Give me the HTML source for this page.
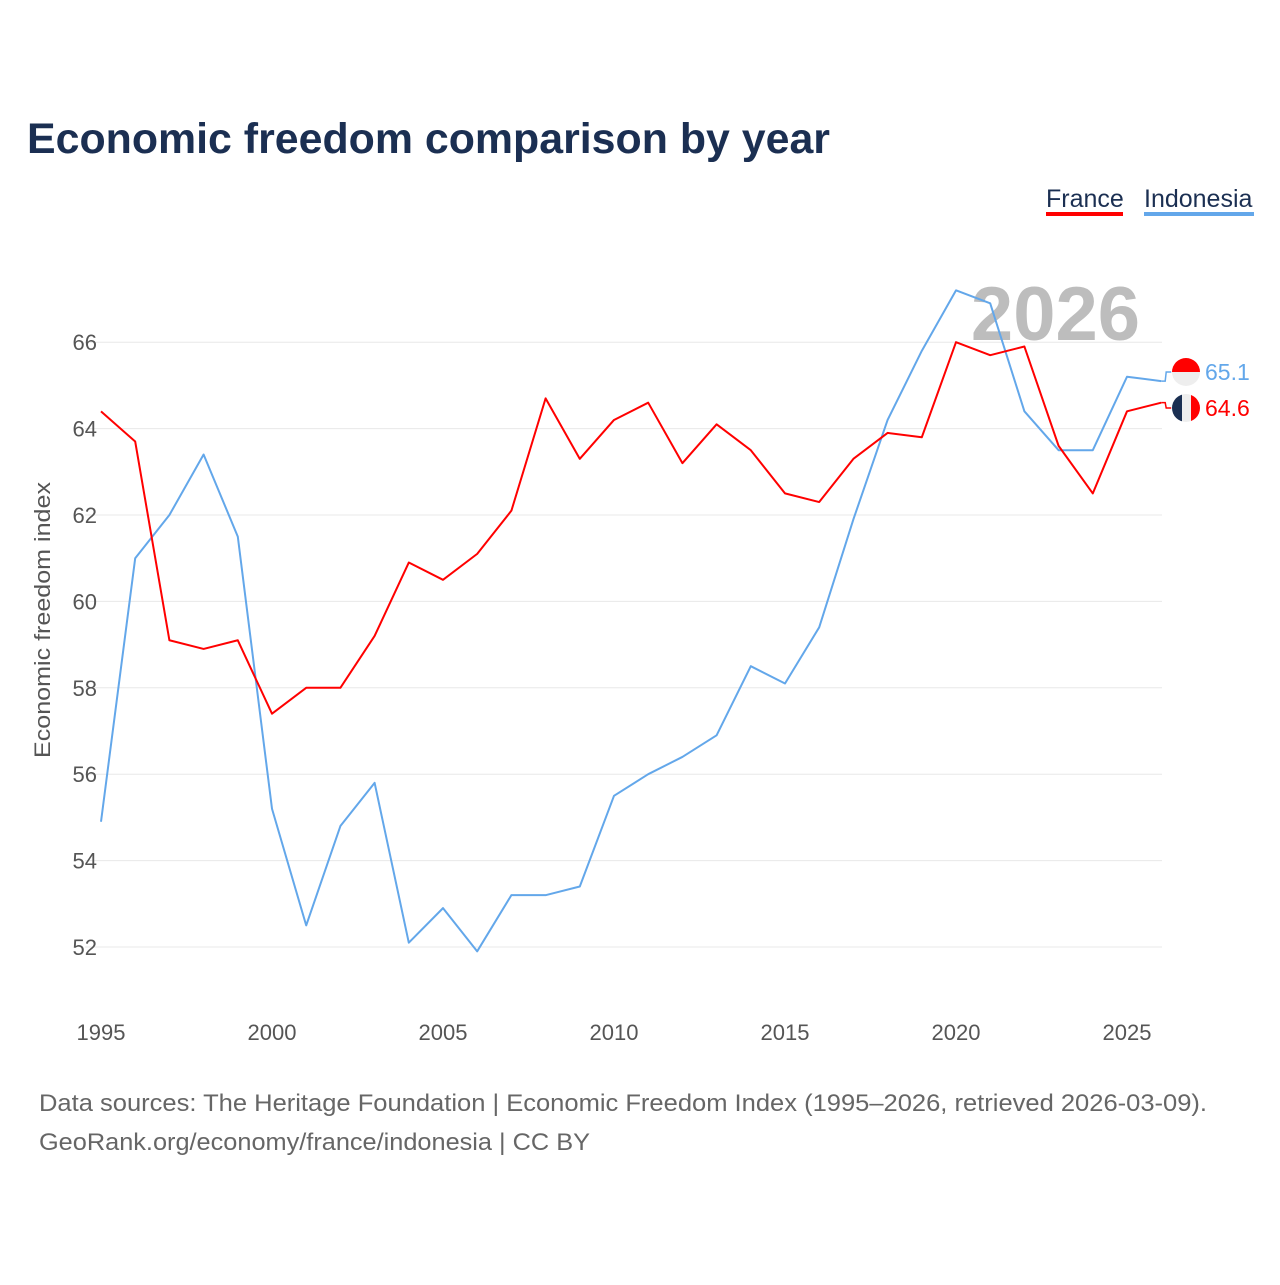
<!DOCTYPE html>
<html><head><meta charset="utf-8"><style>
body{margin:0;background:#fff;font-family:"Liberation Sans",sans-serif;}
svg text{font-family:"Liberation Sans",sans-serif;}
</style></head><body>
<svg id="chart" width="1280" height="1280" viewBox="0 0 1280 1280">
<text x="27" y="153" font-size="43" font-weight="bold" fill="#1b2f52" textLength="803" lengthAdjust="spacingAndGlyphs">Economic freedom comparison by year</text>
<g>
<text x="1046" y="207" font-size="25" fill="#1b2f52">France</text>
<rect x="1046" y="212" width="77" height="4" fill="#ff0000"/>
<text x="1144" y="207" font-size="25" fill="#1b2f52">Indonesia</text>
<rect x="1144" y="212" width="110" height="4" fill="#63a7ea"/>
</g>
<text x="1140" y="340" font-size="76" font-weight="bold" fill="#bdbdbd" text-anchor="end">2026</text>
<g id="grid"></g><g id="lines"></g>
<text transform="translate(50,620) rotate(-90)" font-size="22" fill="#555" text-anchor="middle" textLength="276" lengthAdjust="spacingAndGlyphs">Economic freedom index</text>
<text x="39" y="1111" font-size="24" fill="#666" textLength="1168" lengthAdjust="spacingAndGlyphs">Data sources: The Heritage Foundation | Economic Freedom Index (1995–2026, retrieved 2026-03-09).</text>
<text x="39" y="1150" font-size="24" fill="#666" textLength="551" lengthAdjust="spacingAndGlyphs">GeoRank.org/economy/france/indonesia | CC BY</text>
</svg>
<script>
const years=[1995,1996,1997,1998,1999,2000,2001,2002,2003,2004,2005,2006,2007,2008,2009,2010,2011,2012,2013,2014,2015,2016,2017,2018,2019,2020,2021,2022,2023,2024,2025,2026];
const france=[64.4,63.7,59.1,58.9,59.1,57.4,58.0,58.0,59.2,60.9,60.5,61.1,62.1,64.7,63.3,64.2,64.6,63.2,64.1,63.5,62.5,62.3,63.3,63.9,63.8,66.0,65.7,65.9,63.6,62.5,64.4,64.6];
const indonesia=[54.9,61.0,62.0,63.4,61.5,55.2,52.5,54.8,55.8,52.1,52.9,51.9,53.2,53.2,53.4,55.5,56.0,56.4,56.9,58.5,58.1,59.4,61.9,64.2,65.8,67.2,66.9,64.4,63.5,63.5,65.2,65.1];
const yTicks=[52,54,56,58,60,62,64,66];
const xTicks=[1995,2000,2005,2010,2015,2020,2025];
const NS="http://www.w3.org/2000/svg";
const X=y=>101+(y-1995)*34.2;
const Y=v=>947-(v-52)*43.2;
const grid=document.getElementById('grid'),lines=document.getElementById('lines');
function mk(tag,attrs,parent){const e=document.createElementNS(NS,tag);for(const k in attrs)e.setAttribute(k,attrs[k]);parent.appendChild(e);return e;}
yTicks.forEach(v=>{
 const l=mk('line',{x1:85,x2:1162,y1:Y(v),y2:Y(v),stroke:'#e8e8e8','stroke-width':1},grid);
 
 
 const t=mk('text',{x:97,y:Y(v)+8,'font-size':22,fill:'#555','text-anchor':'end'},grid);
 t.textContent=v;
 
 
});
xTicks.forEach(v=>{
 const t=mk('text',{x:X(v),y:1040,'font-size':22,fill:'#555','text-anchor':'middle'},grid);
 t.textContent=v;
 
 
});
function series(vals,color,name){
 const p=mk('polyline',{points:vals.map((v,i)=>X(years[i])+','+Y(v)).join(' '),fill:'none',stroke:color,'stroke-width':2,'stroke-linejoin':'round'},lines);
 
 
}
series(indonesia,'#63a7ea','indonesia');
series(france,'#ff0000','france');
const last=years.length-1;
function endLabel(v,ly,color,name,flag){
 const g=mk('g',{},lines);
 
 
 const x0=X(years[last]),y0=Y(v);
 mk('polyline',{points:`${x0},${y0} ${x0+4},${y0} ${x0+5},${ly} ${x0+10},${ly}`,fill:'none',stroke:color,'stroke-width':1.5},g);
 const cx=1186,r=14;
 const cp=mk('clipPath',{id:'c'+name},g);mk('circle',{cx:cx,cy:ly,r:r},cp);
 const fg=mk('g',{'clip-path':'url(#c'+name+')'},g);
 if(flag==='id'){mk('rect',{x:cx-r,y:ly-r,width:2*r,height:r,fill:'#ff0000'},fg);mk('rect',{x:cx-r,y:ly,width:2*r,height:r,fill:'#eeeeee'},fg);}
 else{mk('rect',{x:cx-r,y:ly-r,width:10,height:2*r,fill:'#1b2f52'},fg);mk('rect',{x:cx-r+10,y:ly-r,width:9,height:2*r,fill:'#eeeeee'},fg);mk('rect',{x:cx-r+19,y:ly-r,width:10,height:2*r,fill:'#ff0000'},fg);}
 const t=mk('text',{x:1205,y:ly+8,'font-size':23,fill:color},g);t.textContent=v.toFixed(1);
}
endLabel(indonesia[last],372,'#63a7ea','indonesia','id');
endLabel(france[last],408,'#ff0000','france','fr');
</script>
</body></html>
